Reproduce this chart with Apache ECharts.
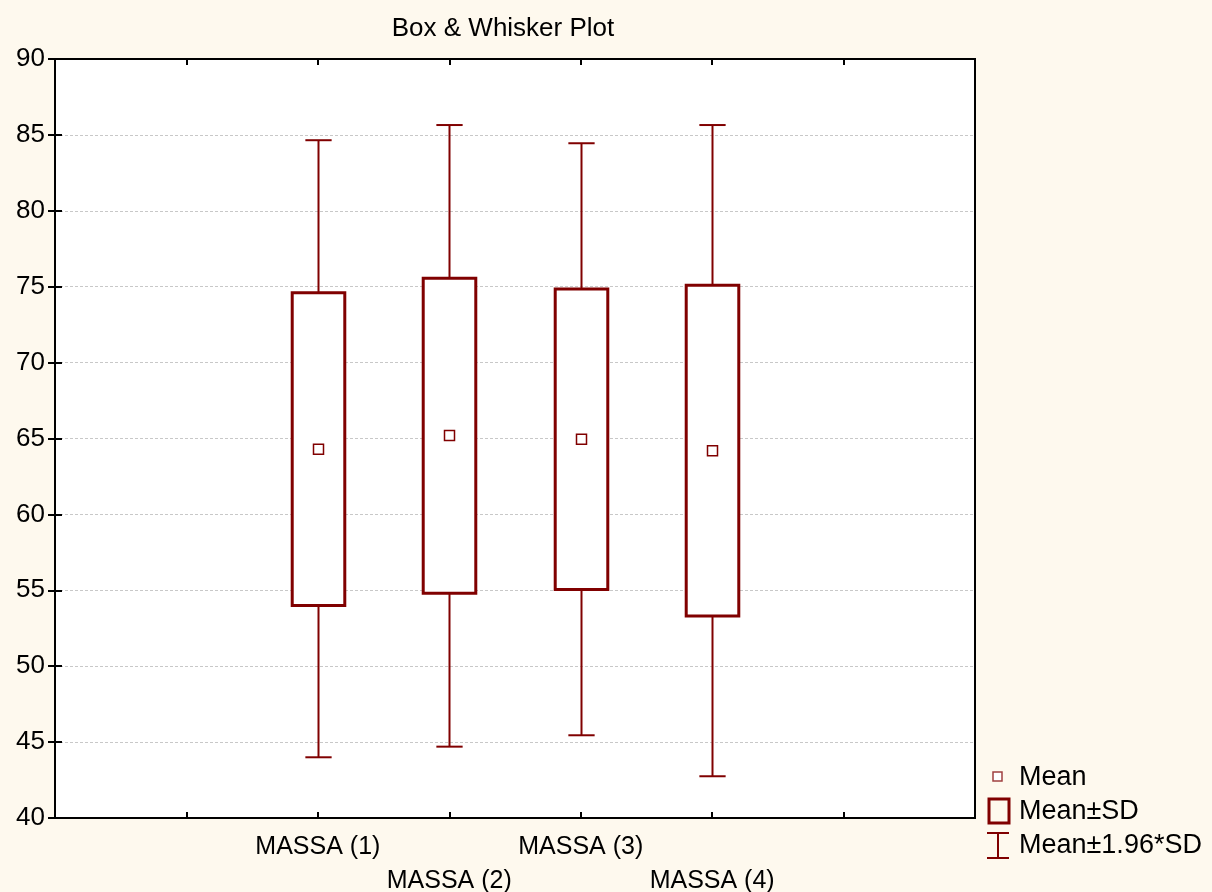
<!DOCTYPE html>
<html><head><meta charset="utf-8">
<script src="https://cdn.jsdelivr.net/npm/echarts@6/dist/echarts.min.js"></script>
<style>html,body{margin:0;padding:0;background:#FEF9EE;}#c{width:1212px;height:892px;}</style>
</head><body><div id="c"></div>
<script>
const categories = ['MASSA (1)', 'MASSA (2)', 'MASSA (3)', 'MASSA (4)'];
const positions = [2, 3, 4, 5];
const means = [64.3, 65.2, 64.95, 64.2];
const sdLow = [54.0, 54.8, 55.05, 53.3];
const sdHigh = [74.6, 75.55, 74.85, 75.1];
const ciLow = [44.0, 44.7, 45.45, 42.75];
const ciHigh = [84.65, 85.65, 84.45, 85.65];
const yTicks = [40, 45, 50, 55, 60, 65, 70, 75, 80, 85, 90];

const RED = '#800000';
const FONT = 'Liberation Sans, Arial, sans-serif';
const data = positions.map((p, i) => [p, means[i], sdLow[i], sdHigh[i], ciLow[i], ciHigh[i]]);

const chart = echarts.init(document.getElementById('c'));
chart.setOption({
  backgroundColor: '#FEF9EE',
  animation: false,
  title: {text: 'Box & Whisker Plot', left: 498, top: 11, textAlign: 'center',
    textStyle: {fontFamily: FONT, fontSize: 26, fontWeight: 'normal', color: '#000'}},
  grid: {left: 55, right: 237, top: 59, bottom: 74, containLabel: false, outerBoundsMode: 'none',
    show: true, backgroundColor: '#fff', borderColor: '#000', borderWidth: 2},
  xAxis: [{
    type: 'value', min: 0, max: 7, interval: 1,
    axisLine: {show: true, lineStyle: {color: '#000', width: 2}},
    axisTick: {show: true, inside: true, length: 6, lineStyle: {color: '#000', width: 2}},
    splitLine: {show: false},
    axisLabel: {fontFamily: FONT, fontSize: 25, color: '#000', margin: 12, lineHeight: 34,
      formatter: v => {
        const i = positions.indexOf(v);
        if (i < 0) return '';
        return (i % 2 === 1 ? '\n' : '') + categories[i];
      }}
  }, {
    type: 'value', position: 'top', min: 0, max: 7, interval: 1,
    axisLine: {show: true, lineStyle: {color: '#000', width: 2}},
    axisTick: {show: true, inside: true, length: 6, lineStyle: {color: '#000', width: 2}},
    axisLabel: {show: false}, splitLine: {show: false}
  }],
  yAxis: [{
    type: 'value', min: yTicks[0], max: yTicks[yTicks.length - 1], interval: 5,
    axisLine: {show: true, lineStyle: {color: '#000', width: 2}},
    axisTick: {show: true, inside: true, length: 7, lineStyle: {color: '#000', width: 2}},
    splitLine: {show: true, lineStyle: {color: '#c8c8c8', type: [3, 2], width: 1}},
    axisLabel: {fontFamily: FONT, fontSize: 26, color: '#000', margin: 10}
  }, {
    type: 'value', position: 'right', min: yTicks[0], max: yTicks[yTicks.length - 1], interval: 5,
    axisLine: {show: true, lineStyle: {color: '#000', width: 2}},
    axisTick: {show: true, inside: true, length: 7, lineStyle: {color: '#000', width: 2}},
    axisLabel: {show: false}, splitLine: {show: false}
  }],
  series: [{
    type: 'custom',
    data: data,
    renderItem: function (params, api) {
      const x = api.value(0);
      const pm = api.coord([x, api.value(1)]);
      const pl = api.coord([x, api.value(2)]);
      const ph = api.coord([x, api.value(3)]);
      const cl = api.coord([x, api.value(4)]);
      const ch = api.coord([x, api.value(5)]);
      const boxW = api.size([0.4, 0])[0];
      const capW = api.size([0.2, 0])[0];
      const cx = Math.round(pm[0]) + 0.5;
      const ls = {stroke: RED, lineWidth: 2, fill: null};
      return {type: 'group', children: [
        {type: 'line', shape: {x1: cx, y1: ch[1], x2: cx, y2: ph[1]}, style: ls},
        {type: 'line', shape: {x1: cx, y1: pl[1], x2: cx, y2: cl[1]}, style: ls},
        {type: 'line', shape: {x1: cx - capW / 2, y1: ch[1], x2: cx + capW / 2, y2: ch[1]}, style: ls},
        {type: 'line', shape: {x1: cx - capW / 2, y1: cl[1], x2: cx + capW / 2, y2: cl[1]}, style: ls},
        {type: 'rect', shape: {x: cx - boxW / 2, y: ph[1], width: boxW, height: pl[1] - ph[1]},
          style: {stroke: RED, lineWidth: 3, fill: '#fff'}},
        {type: 'rect', shape: {x: cx - 5, y: pm[1] - 5, width: 10, height: 10},
          style: {stroke: RED, lineWidth: 1.5, fill: '#fff'}}
      ]};
    }
  }],
  graphic: [
    {type: 'rect', shape: {x: 993, y: 772, width: 9, height: 9}, style: {stroke: '#a04040', lineWidth: 1.5, fill: '#fff'}},
    {type: 'text', left: 1019, top: 764, style: {text: 'Mean', fontFamily: FONT, fontSize: 27, fill: '#000'}},
    {type: 'rect', shape: {x: 989, y: 799, width: 20, height: 24}, style: {stroke: RED, lineWidth: 3, fill: 'none'}},
    {type: 'text', left: 1019, top: 798, style: {text: 'Mean±SD', fontFamily: FONT, fontSize: 27, fill: '#000'}},
    {type: 'line', shape: {x1: 987, y1: 833, x2: 1009, y2: 833}, style: {stroke: RED, lineWidth: 2}},
    {type: 'line', shape: {x1: 998, y1: 833, x2: 998, y2: 858}, style: {stroke: RED, lineWidth: 2}},
    {type: 'line', shape: {x1: 987, y1: 858, x2: 1009, y2: 858}, style: {stroke: RED, lineWidth: 2}},
    {type: 'text', left: 1019, top: 832, style: {text: 'Mean±1.96*SD', fontFamily: FONT, fontSize: 27, fill: '#000'}}
  ]
});
</script></body></html>
